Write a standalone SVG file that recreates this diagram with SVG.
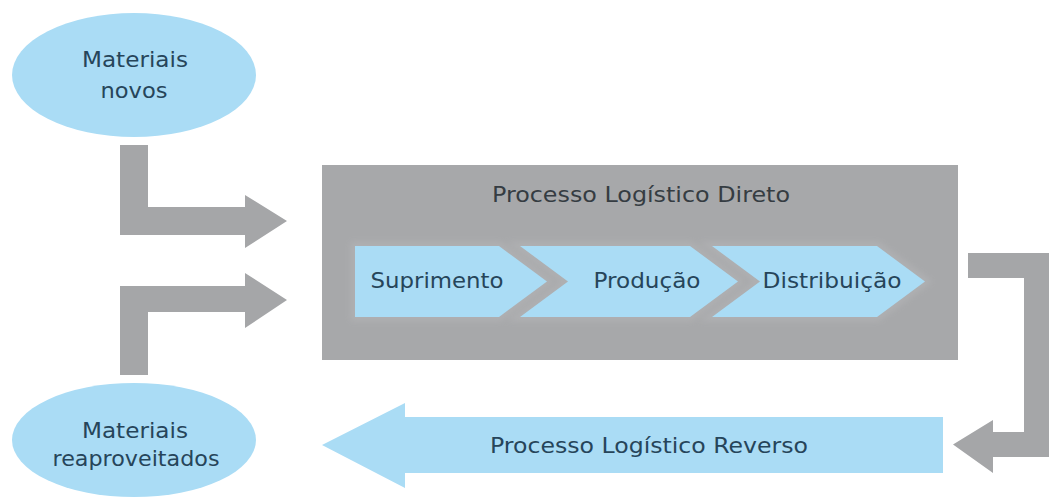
<svg xmlns="http://www.w3.org/2000/svg" width="1049" height="502" viewBox="0 0 1049 502">
  <style>
    .blue { fill: #aadcf5; }
    .gray { fill: #a5a6a8; }
    .box { fill: #a7a8aa; }
    .lbl { font-family: "DejaVu Sans", "Liberation Sans", sans-serif; font-size: 21px; fill: #26455a; text-anchor: middle; }
    .ttl { font-family: "DejaVu Sans", "Liberation Sans", sans-serif; font-size: 21px; fill: #353c42; text-anchor: middle; }
  </style>
  <defs>
    <filter id="glow" x="-10%" y="-30%" width="120%" height="160%">
      <feGaussianBlur stdDeviation="3"/>
    </filter>
  </defs>
  <rect width="1049" height="502" fill="#ffffff"/>

  <g id="connectors">
    <path class="gray" d="M120,145 L148,145 L148,207 L245,207 L245,195 L287,221 L245,248 L245,235 L120,235 Z"/>
    <path class="gray" d="M120,375 L148,375 L148,312 L245,312 L245,328 L287,300 L245,273 L245,286 L120,286 Z"/>
    <path class="gray" d="M968,253 L1049,253 L1049,457 L993,457 L993,473 L953,444.5 L993,420 L993,432 L1024,432 L1024,278 L968,278 Z"/>
  </g>

  <g id="materiais-novos">
    <ellipse class="blue" cx="134" cy="75" rx="122" ry="62"/>
    <text class="lbl" x="135" y="67" textLength="106" lengthAdjust="spacingAndGlyphs">Materiais</text>
    <text class="lbl" x="134" y="98" textLength="67" lengthAdjust="spacingAndGlyphs">novos</text>
  </g>

  <g id="materiais-reaproveitados">
    <ellipse class="blue" cx="134" cy="440" rx="122" ry="57"/>
    <text class="lbl" x="135" y="438" textLength="106" lengthAdjust="spacingAndGlyphs">Materiais</text>
    <text class="lbl" x="136" y="466" textLength="167" lengthAdjust="spacingAndGlyphs">reaproveitados</text>
  </g>

  <g id="processo-direto">
    <rect class="box" x="322" y="165" width="636" height="195"/>
    <text class="ttl" x="641" y="202" textLength="298" lengthAdjust="spacingAndGlyphs">Processo Logístico Direto</text>
    <g filter="url(#glow)" fill="none" stroke="#b3b4b6" stroke-width="9" stroke-linejoin="miter" opacity="0.7">
      <path d="M355,246 L499,246 L547,281.5 L499,317 L355,317 Z"/>
      <path d="M520,246 L690,246 L738,281.5 L690,317 L520,317 L568,281.5 Z"/>
      <path d="M712,246 L877,246 L925,281.5 L877,317 L712,317 L760,281.5 Z"/>
    </g>
  </g>

  <g id="suprimento">
    <path class="blue" d="M355,246 L499,246 L547,281.5 L499,317 L355,317 Z"/>
    <text class="lbl" x="437" y="288" textLength="133" lengthAdjust="spacingAndGlyphs">Suprimento</text>
  </g>

  <g id="producao">
    <path class="blue" d="M520,246 L690,246 L738,281.5 L690,317 L520,317 L568,281.5 Z"/>
    <text class="lbl" x="647" y="288" textLength="107" lengthAdjust="spacingAndGlyphs">Produção</text>
  </g>

  <g id="distribuicao">
    <path class="blue" d="M712,246 L877,246 L925,281.5 L877,317 L712,317 L760,281.5 Z"/>
    <text class="lbl" x="832" y="288" textLength="139" lengthAdjust="spacingAndGlyphs">Distribuição</text>
  </g>

  <g id="processo-reverso">
    <path class="blue" d="M943,417 L943,473 L405,473 L405,488 L322,445 L405,403 L405,417 Z"/>
    <text class="lbl" x="649" y="453" textLength="318" lengthAdjust="spacingAndGlyphs">Processo Logístico Reverso</text>
  </g>
</svg>
